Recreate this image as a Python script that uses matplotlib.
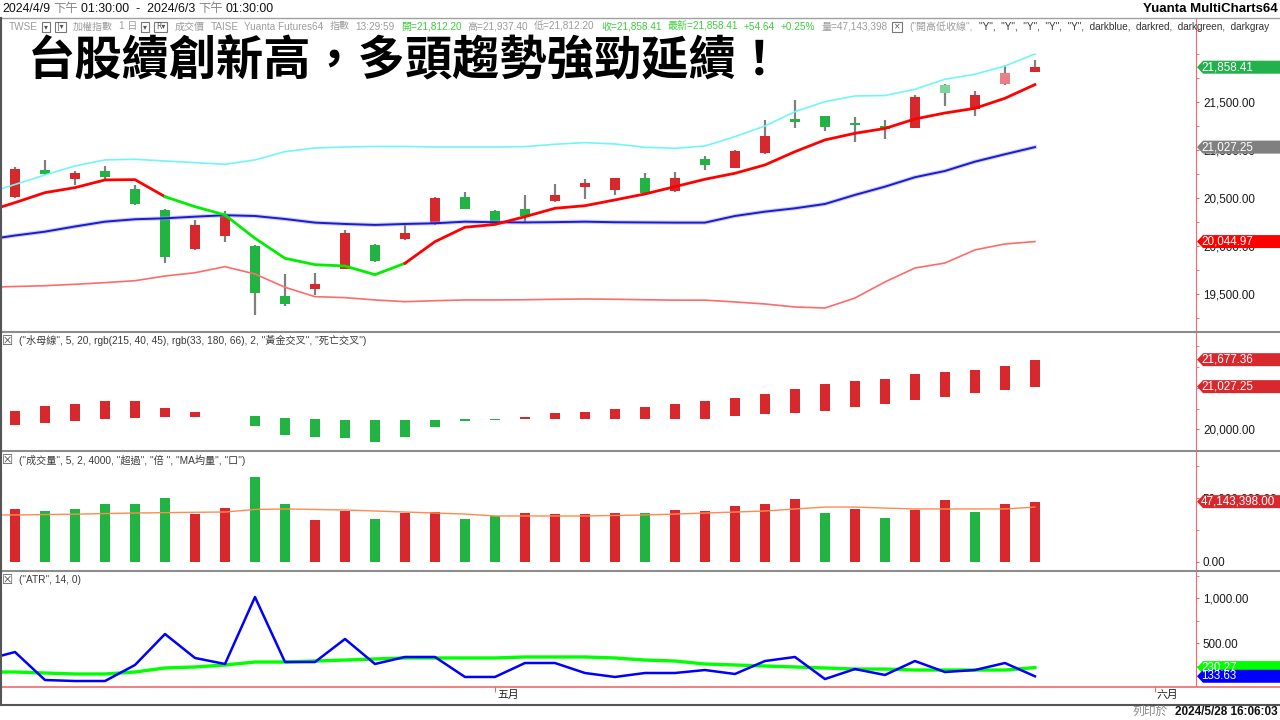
"""TAIEX daily chart (Yuanta MultiCharts style), 2024/4/9 - 2024/5/28.

Four stacked panels: candles + bands, MA5/MA20 gap bars, volume, ATR.
"""
import matplotlib
matplotlib.use("Agg")
import matplotlib.pyplot as plt
import numpy as np
from matplotlib.lines import Line2D
from matplotlib.patches import Polygon, Rectangle
from matplotlib.ticker import FuncFormatter
from matplotlib.transforms import Bbox

plt.rcParams["font.family"] = ["Liberation Sans", "Noto Sans CJK TC", "DejaVu Sans"]

W, H = 1280, 720
AX_R = 1196  # right axis line, pixels

# ---- data (index 0 = 2024/4/9, 34 = 2024/5/28) ----
opens = [20509, 20790, 20696, 20779, 20592, 20374, 19968, 20103, 19999, 19479,
         19552, 19760, 20010, 20072, 20228, 20509, 20363, 20384, 20464, 20616,
         20585, 20710, 20568, 20904, 20814, 20963, 21323, 21348, 21282, 21244,
         21230, 21671, 21424, 21681, 21812.20]
highs = [20821, 20894, 20779, 20831, 20634, 20380, 20270, 20363, 20005, 19708,
         19718, 20166, 20015, 20238, 20505, 20561, 20370, 20527, 20644, 20693,
         20710, 20755, 20766, 20932, 20995, 21310, 21515, 21355, 21341, 21310,
         21570, 21680, 21611, 21882, 21937.40]
lows = [20500, 20740, 20634, 20696, 20430, 19822, 19960, 20041, 19282, 19375,
        19490, 19755, 19833, 20065, 20220, 20380, 20220, 20252, 20460, 20485,
        20527, 20550, 20558, 20793, 20810, 20960, 21230, 21198, 21084, 21109,
        21225, 21455, 21354, 21675, 21812.20]
closes = [20800, 20748, 20758, 20717, 20436, 19885, 20218, 20311, 19511, 19396,
          19604, 20134, 19843, 20134, 20498, 20384, 20228, 20311, 20527, 20654,
          20703, 20554, 20710, 20845, 20984, 21143, 21289, 21240, 21255, 21213,
          21546, 21587, 21567, 21798, 21858.41]
faded = [31, 33]  # candles drawn in a pale tone

# indicator lines start one day earlier (index -1 = 2024/4/8)
ma5 = [20353, 20450, 20554, 20606, 20686, 20689, 20512, 20408, 20322, 20079,
       19871, 19805, 19791, 19701, 19819, 20044, 20194, 20223, 20304, 20391,
       20418, 20478, 20540, 20616, 20693, 20755, 20842, 20980, 21102, 21171,
       21221, 21320, 21382, 21431, 21535, 21677.36]
ma5_green_span = (5, 13)  # ma5 drawn green between these day indexes
ma20 = [20062, 20108, 20148, 20202, 20252, 20277, 20287, 20304, 20319, 20311,
        20280, 20242, 20228, 20218, 20228, 20235, 20252, 20246, 20244, 20247,
        20252, 20246, 20244, 20242, 20242, 20311, 20356, 20391, 20436, 20530,
        20616, 20714, 20779, 20876, 20953, 21027.25]
upper = [20540, 20639, 20738, 20831, 20894, 20901, 20883, 20866, 20849, 20894,
         20980, 21018, 21029, 21034, 21034, 21029, 21029, 21029, 21032, 21057,
         21074, 21060, 21026, 21015, 21039, 21136, 21247, 21396, 21500, 21559,
         21564, 21629, 21733, 21785, 21871, 21996]
lower = [19568, 19578, 19586, 19601, 19618, 19638, 19687, 19721, 19784, 19708,
         19570, 19472, 19462, 19438, 19420, 19430, 19438, 19438, 19440, 19445,
         19448, 19445, 19440, 19436, 19436, 19417, 19396, 19365, 19354, 19458,
         19625, 19770, 19822, 19958, 20020, 20044.97]

# volume, millions
volume = [41.4, 39.8, 41.4, 45.3, 45.3, 50.0, 37.4, 42.1, 66.5, 45.3,
          32.7, 39.8, 33.5, 38.2, 39.0, 33.5, 35.9, 38.2, 37.4, 37.4,
          38.2, 38.2, 40.6, 39.8, 43.7, 45.3, 49.2, 38.2, 41.4, 34.3,
          40.6, 48.4, 39.0, 45.3, 47.143398]
vol_up = "rggggg" "rrggrr" "grrggr" "rrrgrr" "rrrgrg" "rrgrr"
vol_ma = [36.7, 36.7, 37.0, 37.3, 37.8, 38.2, 38.5, 38.8, 39.0, 41.0,
          41.4, 41.0, 40.6, 39.8, 39.0, 38.2, 37.4, 35.9, 35.9, 35.9,
          35.9, 36.3, 36.7, 37.4, 38.2, 39.0, 39.8, 41.4, 42.9, 42.9,
          42.1, 41.4, 41.4, 41.4, 41.4, 42.9]

true_range = [315, 403, 92, 81, 81, 259, 603, 337, 270, 1014,
              292, 292, 548, 270, 348, 348, 126, 126, 281, 281,
              170, 126, 170, 170, 203, 159, 303, 348, 103, 214,
              148, 303, 181, 203, 281, 133.63]
atr14 = [181, 181, 170, 159, 159, 181, 226, 237, 259, 292,
         292, 303, 314, 326, 337, 337, 337, 337, 348, 348,
         348, 337, 314, 303, 270, 259, 248, 237, 226, 214,
         214, 203, 203, 203, 203, 230.27]

month_pos = [16, 38]
month_labels = ["五月", "六月"]

# ---- colours ----
RED = "#d7282d"
GREEN = "#21b442"
AXIS_RED = "#ee6b6b"
GRID_GREY = "#8c8c8c"
TICK_FS = 8.4

days = np.arange(len(closes))
line_x = np.arange(-1, len(closes))

fig = plt.figure(figsize=(W / 100, H / 100), dpi=100)
fig.patch.set_facecolor("white")


def panel(top, bottom):
    ax = fig.add_axes([0, 1 - bottom / H, AX_R / W, (bottom - top) / H])
    for s in ax.spines.values():
        s.set_visible(False)
    ax.spines["right"].set_visible(True)
    ax.spines["right"].set_color(AXIS_RED)
    ax.yaxis.tick_right()
    ax.tick_params(axis="y", which="both", direction="out", length=2.5,
                   color=AXIS_RED, labelsize=TICK_FS, pad=2.5, labelcolor="#1a1a1a")
    ax.tick_params(axis="x", bottom=False, labelbottom=False)
    ax.set_xlim(-0.5, 39.37)
    return ax


def flag(ax, value, color, text, tcolor="white"):
    y = ax.transData.transform((0, value))[1]
    h = 6.5
    pts = [(AX_R + 1, y), (AX_R + 7, y + h), (W, y + h), (W, y - h), (AX_R + 7, y - h)]
    fig.add_artist(Polygon([(px / W, py / H) for px, py in pts], closed=True,
                           transform=fig.transFigure, facecolor=color,
                           edgecolor="none", zorder=10))
    fig.text((AX_R + 5) / W, y / H, text, color=tcolor, fontsize=TICK_FS,
             va="center", ha="left", zorder=11)


def hline(y, x0=0, x1=W, color=GRID_GREY, lw=1.5):
    fig.add_artist(Line2D([x0 / W, x1 / W], [1 - y / H, 1 - y / H],
                          transform=fig.transFigure, color=color, lw=lw))


def chain(x, y, pieces, size, gap=3, clip_x=None, **kw):
    """write text pieces one after another, starting at pixel x.
    a piece whose colour is None is drawn as a small boxed button."""
    r = fig.canvas.get_renderer()
    for t, c in pieces:
        boxed = c is None
        txt = fig.text(x / W, 1 - y / H, t, fontsize=size - 1.5 if boxed else size,
                       color="#555" if boxed else c, va="center", ha="left",
                       family="DejaVu Sans" if boxed else None, **kw)
        bb = txt.get_window_extent(r)
        if clip_x is not None:
            txt.set_clip_box(Bbox([[0, 0], [clip_x, H]]))
            txt.set_clip_on(True)
        if boxed:
            fig.add_artist(Rectangle(((bb.x0 - 2) / W, (H - y - 5) / H),
                                     (bb.width + 4) / W, 10 / H,
                                     transform=fig.transFigure, fill=False,
                                     edgecolor="#777", lw=0.8))
            x = bb.x1 + gap + 3
        else:
            x = bb.x1 + gap


fmt2 = FuncFormatter(lambda v, _: f"{v:,.2f}")

# ---- panel 1: candles ----
ax1 = panel(18, 331)
ax1.set_ylim(19115, 22370)
ax1.set_yticks(np.arange(19500, 21501, 500))
ax1.set_yticks(np.arange(19250, 22300, 250), minor=True)
ax1.yaxis.set_major_formatter(fmt2)

ax1.vlines(days, lows, highs, color="#7f7f7f", lw=1.6, zorder=2)
for i in days:
    up = closes[i] >= opens[i]
    c = RED if up else GREEN
    if i in faded:
        c = "#e98088" if up else "#7ed699"
    ax1.bar(i, closes[i] - opens[i], bottom=opens[i], width=0.34,
            color=c, zorder=3)

ax1.plot(line_x, upper, color="#6ff6f6", lw=1.2, zorder=4)
ax1.plot(line_x, lower, color="#ff6a6a", lw=1.2, zorder=4)
ax1.plot(line_x, ma20, color="#9a9aff", lw=3.0, alpha=0.5, zorder=4)
ax1.plot(line_x, ma20, color="#1c1cc8", lw=1.4, zorder=5)
ma5_arr = np.array(ma5)
g0, g1 = ma5_green_span
ax1.plot(line_x[: g0 + 2], ma5_arr[: g0 + 2], color="#ff0000", lw=2, zorder=6)
ax1.plot(line_x[g0 + 1: g1 + 2], ma5_arr[g0 + 1: g1 + 2], color="#00ee00", lw=2, zorder=6)
ax1.plot(line_x[g1 + 1:], ma5_arr[g1 + 1:], color="#ff0000", lw=2, zorder=6)

# ---- panel 2: ma5 / ma20 gap bars ----
ax2 = panel(333, 450)
ax2.set_ylim(19501, 22320)
ax2.set_yticks([20000])
ax2.set_yticks([19500, 20500, 21000, 21500, 22000], minor=True)
ax2.yaxis.set_major_formatter(fmt2)
gap = ma5_arr[1:] - np.array(ma20[1:])
ax2.bar(days, gap, bottom=ma20[1:], width=0.34,
        color=[RED if g >= 0 else GREEN for g in gap])

# ---- panel 3: volume ----
ax3 = panel(452, 570)
ax3.set_ylim(-6.5, 86.1)
ax3.set_yticks([0, 50])
ax3.set_yticks([25, 75], minor=True)
ax3.yaxis.set_major_formatter(FuncFormatter(lambda v, _: f"{v * 1e6:,.2f}"))
ax3.bar(days, volume, width=0.34,
        color=[RED if c == "r" else GREEN for c in vol_up])
ax3.plot(line_x, vol_ma, color="#ff8a50", lw=1.0)

# ---- panel 4: ATR ----
ax4 = panel(572, 686)
ax4.set_ylim(25.6, 1292)
ax4.set_yticks([500, 1000])
ax4.set_yticks([250, 750, 1250], minor=True)
ax4.yaxis.set_major_formatter(fmt2)
ax4.plot(line_x, atr14, color="#00ff00", lw=2.4)
ax4.plot(line_x, true_range, color="#0000ff", lw=1.8)
ax4.set_xticks(month_pos)
ax4.tick_params(axis="x", bottom=True, direction="out", length=4,
                color=AXIS_RED, labelbottom=False)
for m, lab in zip(month_pos, month_labels):
    ax4.annotate(lab, xy=(m, 0), xycoords=("data", "axes fraction"),
                 xytext=(2, -4), textcoords="offset pixels",
                 ha="left", va="top", fontsize=7.8, color="#222")

# ---- frame lines ----
hline(18, color="#a0a0a0", lw=1.0)
hline(331.5)
hline(451)
hline(571)
hline(686.5, color=AXIS_RED, lw=1.2)
hline(705, color="#555555", lw=1.5)
fig.add_artist(Line2D([0.5 / W, 0.5 / W], [1 - 18 / H, 1 - 705 / H],
                      transform=fig.transFigure, color="#555555", lw=1.5))

# ---- price flags on the right ----
fig.canvas.draw()
flag(ax1, 21858.41, "#22b14c", "21,858.41")
flag(ax1, 21027.25, "#808080", "21,027.25")
flag(ax1, 20044.97, "#ff0000", "20,044.97")
flag(ax2, 21677.36, RED, "21,677.36")
flag(ax2, 21027.25, RED, "21,027.25")
flag(ax3, 47.143398, RED, "47,143,398.00")
flag(ax4, 230.27, "#00ff00", "230.27")
flag(ax4, 133.63, "#0000ff", "133.63")

# ---- texts ----
chain(2, 9, [("2024/4/9", "#111"), ("下午", "#888"), ("01:30:00  -  2024/6/3", "#111"),
             ("下午", "#888"), ("01:30:00", "#111")], 8.9)
fig.text(1278 / W, 1 - 9 / H, "Yuanta MultiCharts64", fontsize=9.5,
         weight="bold", va="center", ha="right")

GREY_T = "#9c9c9c"
GREEN_T = "#3ccc3c"
status = [("TWSE", GREY_T), ("▾", None), ("|▾", None), ("加權指數", GREY_T),
          ("1 日", GREY_T), ("▾", None), ("R▾", None), ("成交價", GREY_T),
          ("TAISE", GREY_T), ("Yuanta Futures64", GREY_T), ("指數", GREY_T),
          ("13:29:59", GREY_T), ("開=21,812.20", GREEN_T), ("高=21,937.40", GREY_T),
          ("低=21,812.20", GREY_T), ("收=21,858.41", GREEN_T),
          ("最新=21,858.41", GREEN_T), ("+54.64", GREEN_T), ("+0.25%", GREEN_T),
          ("量=47,143,398", GREY_T), ("×", None), ('("開高低收線",', GREY_T),
          ('"Y",  "Y",  "Y",  "Y",  "Y",  darkblue,  darkred,  darkgreen,  darkgray', "#333")]
chain(9, 26.5, status, 7.2, gap=6, clip_x=1277)

fig.text(28 / W, 1 - 62 / H, "台股續創新高，多頭趨勢強勁延續！", fontsize=34,
         weight="bold", family=["Noto Sans CJK TC"], color="black",
         va="center", ha="left")

headers = [(341, '("水母線", 5, 20, rgb(215, 40, 45), rgb(33, 180, 66), 2, "黃金交叉", "死亡交叉")'),
           (460, '("成交量", 5, 2, 4000, "超過", "倍 ", "MA均量", "口")'),
           (580, '("ATR", 14, 0)')]
for y, t in headers:
    fig.text(8 / W, 1 - y / H, "☒", fontsize=9, color="#555",
             ha="center", va="center", family="DejaVu Sans")
    fig.text(19 / W, 1 - y / H, t, fontsize=7.3, color="#3a3a3a",
             ha="left", va="center")

fig.text(1168 / W, 1 - 712 / H, "列印於", fontsize=8.5, color="#888",
         ha="right", va="center")
fig.text(1278 / W, 1 - 712 / H, "2024/5/28 16:06:03", fontsize=8.5,
         weight="bold", color="#111", ha="right", va="center")

fig.savefig("out.png", dpi=100, facecolor="white")
